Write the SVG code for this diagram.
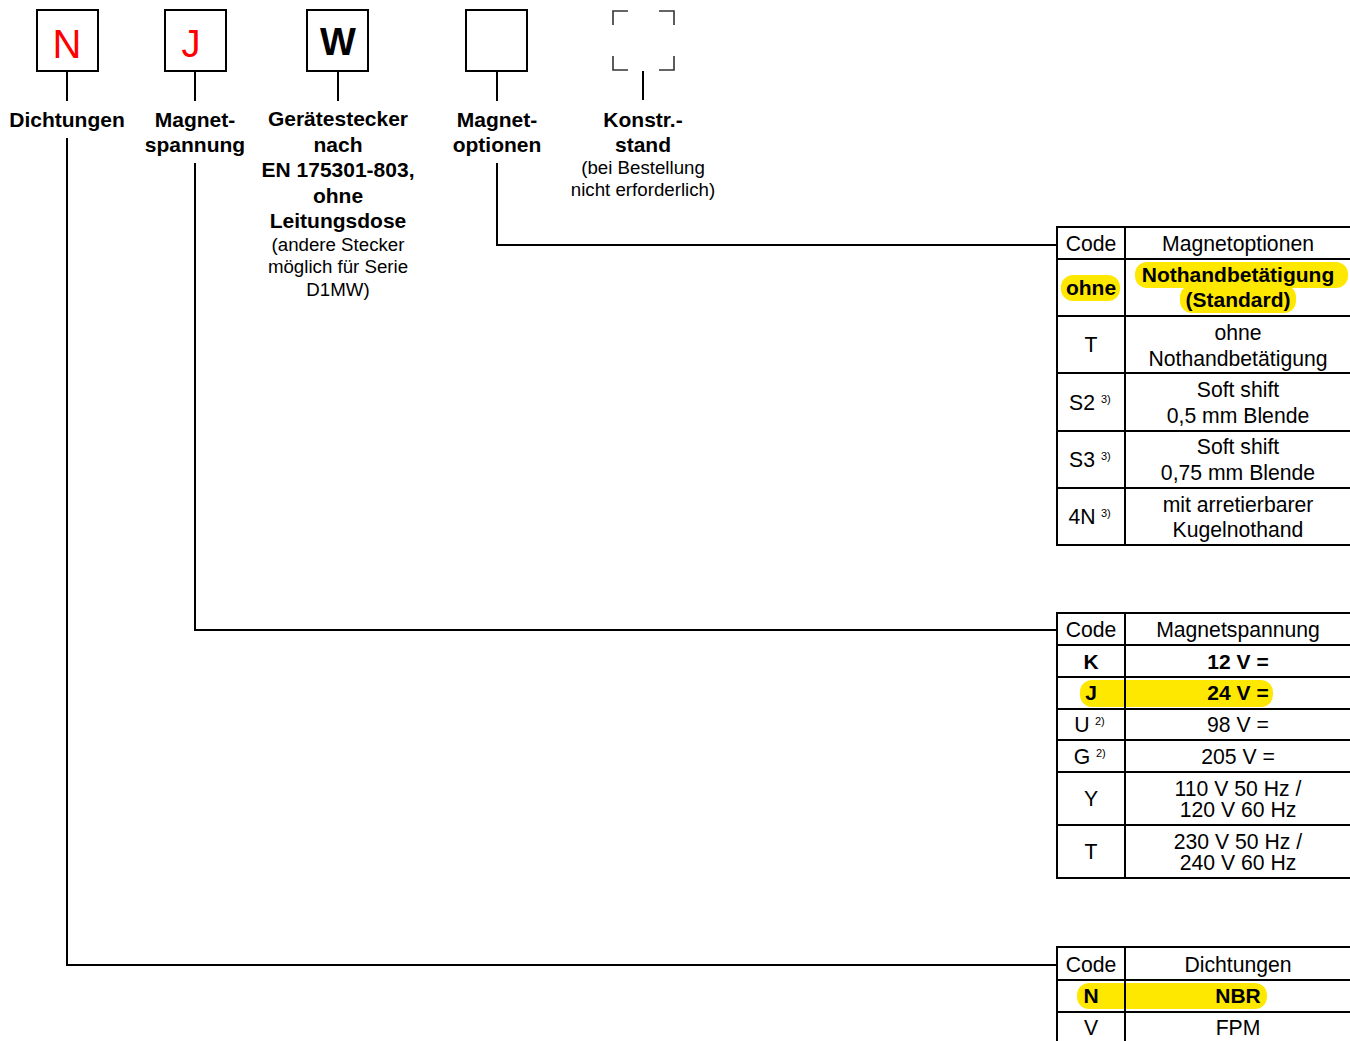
<svg xmlns="http://www.w3.org/2000/svg" width="1350" height="1041" viewBox="0 0 1350 1041">
<style>
text{font-family:"Liberation Sans",Arial,sans-serif;fill:#000}
.lb{font-size:21px;font-weight:bold;text-anchor:middle}
.sm{font-size:18.7px;text-anchor:middle}
.t{font-size:21.2px;text-anchor:middle}
.tb{font-size:21px;font-weight:bold;text-anchor:middle}
.sup{font-size:11px}
.box{fill:#fff;stroke:#000;stroke-width:2}
.ln{fill:none;stroke:#000;stroke-width:2}
.hl{fill:#ffe800}
.cor{fill:none;stroke:#333;stroke-width:1.6}
</style>
<rect width="1350" height="1041" fill="#fff"/>

<g id="connectors">
<path class="ln" d="M67 71V101M67 138V965H1057"/>
<path class="ln" d="M195 71V101M195 163V630H1057"/>
<path class="ln" d="M338 71V101"/>
<path class="ln" d="M497 71V101M497 163V245H1057"/>
<path class="ln" d="M643 71V100"/>
</g>

<g id="node-N">
<rect class="box" x="37" y="10" width="61" height="61"/>
<text x="67" y="58" style="font-size:40px;fill:#f00;text-anchor:middle">N</text>
<text class="lb" x="67" y="127">Dichtungen</text>
</g>
<g id="node-J">
<rect class="box" x="165" y="10" width="61" height="61"/>
<text x="191" y="57" style="font-size:38px;fill:#f00;text-anchor:middle">J</text>
<text class="lb" x="195" y="127">Magnet-</text>
<text class="lb" x="195" y="152">spannung</text>
</g>
<g id="node-W">
<rect class="box" x="307" y="10" width="61" height="61"/>
<text x="338" y="55" style="font-size:38px;font-weight:bold;text-anchor:middle">W</text>
<text class="lb" x="338" y="126">Gerätestecker</text>
<text class="lb" x="338" y="152">nach</text>
<text class="lb" x="338" y="177">EN 175301-803,</text>
<text class="lb" x="338" y="203">ohne</text>
<text class="lb" x="338" y="228">Leitungsdose</text>
<text class="sm" x="338" y="251">(andere Stecker</text>
<text class="sm" x="338" y="273">möglich für Serie</text>
<text class="sm" x="338" y="296">D1MW)</text>
</g>
<g id="node-magnetoptionen">
<rect class="box" x="466" y="10" width="61" height="61"/>
<text class="lb" x="497" y="127">Magnet-</text>
<text class="lb" x="497" y="152">optionen</text>
</g>
<g id="node-konstr">
<path class="cor" d="M613 25V11H628M659 11H674V25M613 56V70H628M659 70H674V56"/>
<text class="lb" x="643" y="127">Konstr.-</text>
<text class="lb" x="643" y="152">stand</text>
<text class="sm" x="643" y="174">(bei Bestellung</text>
<text class="sm" x="643" y="196">nicht erforderlich)</text>
</g>

<g id="table-magnetoptionen">
<rect class="hl" x="1061" y="275" width="59" height="26" rx="12"/>
<rect class="hl" x="1135" y="262" width="213" height="26" rx="12"/>
<rect class="hl" x="1180" y="285" width="116" height="28" rx="12"/>
<path class="ln" d="M1057 227H1350M1057 259H1350M1057 316H1350M1057 373H1350M1057 431H1350M1057 488H1350M1057 545H1350M1057 226V546M1125 226V546"/>
<text class="t" x="1091" y="251">Code</text>
<text class="t" x="1238" y="251">Magnetoptionen</text>
<text class="tb" x="1091" y="295">ohne</text>
<text class="tb" x="1238" y="282">Nothandbetätigung</text>
<text class="tb" x="1238" y="307">(Standard)</text>
<text class="t" x="1091" y="352">T</text>
<text class="t" x="1238" y="340">ohne</text>
<text class="t" x="1238" y="366">Nothandbetätigung</text>
<text class="t" x="1082" y="410">S2</text><text class="sup" x="1101" y="403">3)</text>
<text class="t" x="1238" y="397">Soft shift</text>
<text class="t" x="1238" y="423">0,5 mm Blende</text>
<text class="t" x="1082" y="467">S3</text><text class="sup" x="1101" y="460">3)</text>
<text class="t" x="1238" y="454">Soft shift</text>
<text class="t" x="1238" y="480">0,75 mm Blende</text>
<text class="t" x="1082" y="524">4N</text><text class="sup" x="1101" y="517">3)</text>
<text class="t" x="1238" y="512">mit arretierbarer</text>
<text class="t" x="1238" y="537">Kugelnothand</text>
</g>

<g id="table-magnetspannung">
<rect class="hl" x="1080" y="680" width="193" height="27" rx="12"/>
<path class="ln" d="M1057 613H1350M1057 645H1350M1057 677H1350M1057 709H1350M1057 740H1350M1057 772H1350M1057 825H1350M1057 878H1350M1057 612V879M1125 612V879"/>
<text class="t" x="1091" y="637">Code</text>
<text class="t" x="1238" y="637">Magnetspannung</text>
<text class="tb" x="1091" y="669">K</text>
<text class="tb" x="1238" y="669">12 V =</text>
<text class="tb" x="1091" y="700">J</text>
<text class="tb" x="1238" y="700">24 V =</text>
<text class="t" x="1082" y="732">U</text><text class="sup" x="1095" y="725">2)</text>
<text class="t" x="1238" y="732">98 V =</text>
<text class="t" x="1082" y="764">G</text><text class="sup" x="1096" y="757">2)</text>
<text class="t" x="1238" y="764">205 V =</text>
<text class="t" x="1091" y="806">Y</text>
<text class="t" x="1238" y="796">110 V 50 Hz /</text>
<text class="t" x="1238" y="817">120 V 60 Hz</text>
<text class="t" x="1091" y="859">T</text>
<text class="t" x="1238" y="849">230 V 50 Hz /</text>
<text class="t" x="1238" y="870">240 V 60 Hz</text>
</g>

<g id="table-dichtungen">
<rect class="hl" x="1077" y="983" width="190" height="26" rx="12"/>
<path class="ln" d="M1057 947H1350M1057 980H1350M1057 1012H1350M1057 946V1041M1125 946V1041"/>
<text class="t" x="1091" y="972">Code</text>
<text class="t" x="1238" y="972">Dichtungen</text>
<text class="tb" x="1091" y="1003">N</text>
<text class="tb" x="1238" y="1003">NBR</text>
<text class="t" x="1091" y="1035">V</text>
<text class="t" x="1238" y="1035">FPM</text>
</g>
</svg>
